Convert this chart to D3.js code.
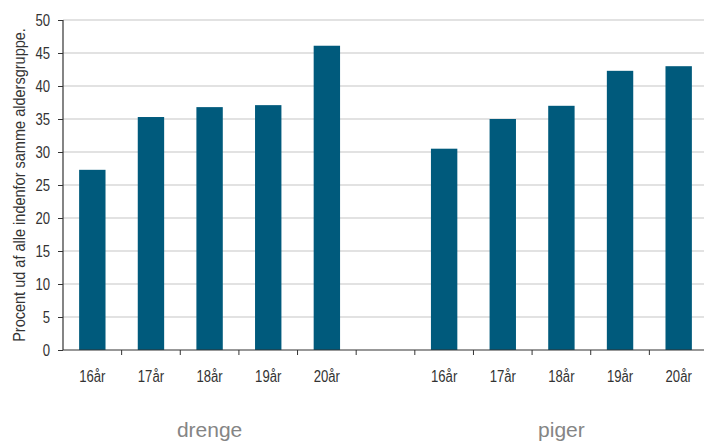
<!DOCTYPE html>
<html><head><meta charset="utf-8">
<script src="https://cdn.jsdelivr.net/npm/d3@7"></script>
<style>
body{margin:0;background:#fff;}
svg text{font-family:"Liberation Sans",Arial,sans-serif;}
</style></head>
<body><svg id="c" width="704" height="441"></svg>
<script>
const categories = ["d16","d17","d18","d19","d20","gap","p16","p17","p18","p19","p20"];
const tickLabels = ["16år","17år","18år","19år","20år","","16år","17år","18år","19år","20år"];
const values = [27.3, 35.3, 36.8, 37.1, 46.1, null, 30.5, 35.0, 37.0, 42.3, 43.0];
const yTicks = [0,5,10,15,20,25,30,35,40,45,50];
const groups = [{label:"drenge", cats:["d16","d20"]},{label:"piger", cats:["p16","p20"]}];
const yTitle = "Procent ud af alle indenfor samme aldersgruppe.";

const narrow = 0.82;
const svg = d3.select("#c");
const mLeft = 63, mRight = 708, mTop = 20, mBottom = 350;
const x = d3.scaleBand().domain(categories).range([mLeft,mRight]).paddingInner(0.55).paddingOuter(0.275);
const xb = d3.scaleBand().domain(categories).range([mLeft,mRight]);
const y = d3.scaleLinear().domain([0,50]).range([mBottom,mTop]);

// gridlines
svg.append("g").selectAll("line").data(yTicks.filter(d=>d>0)).join("line")
  .attr("x1",mLeft).attr("x2",704).attr("y1",d=>y(d)).attr("y2",d=>y(d))
  .attr("stroke","#c6c6c6").attr("stroke-width",1.2);

// bars
svg.append("g").selectAll("rect").data(categories.map((c,i)=>({c,v:values[i]})).filter(d=>d.v!=null)).join("rect")
  .attr("x",d=>x(d.c)).attr("width",x.bandwidth())
  .attr("y",d=>y(d.v)).attr("height",d=>y(0)-y(d.v))
  .attr("fill","#005a7c");

// y axis
const ya = svg.append("g").attr("transform",`translate(${mLeft},0)`)
  .call(d3.axisLeft(y).tickValues(yTicks).tickSize(5).tickPadding(5));
ya.select(".domain").attr("stroke","#333").attr("stroke-width",1.2).attr("d",`M0,${mTop}V${mBottom}`);
ya.selectAll(".tick line").attr("stroke","#333");
ya.selectAll("text").attr("font-size",16).attr("fill","#333").attr("font-family",null)
  .attr("x",0).attr("transform",`translate(-13,0) scale(${narrow},1)`);

// x axis line + ticks at band boundaries
svg.append("line").attr("x1",mLeft).attr("x2",704).attr("y1",mBottom).attr("y2",mBottom)
  .attr("stroke","#333").attr("stroke-width",1.2);
svg.append("g").selectAll("line").data(categories.slice(1)).join("line")
  .attr("x1",d=>xb(d)).attr("x2",d=>xb(d)).attr("y1",mBottom).attr("y2",mBottom+5)
  .attr("stroke","#333");
svg.append("g").selectAll("text").data(categories).join("text")
  .attr("transform",d=>`translate(${xb(d)+xb.bandwidth()/2},382) scale(${narrow},1)`)
  .attr("text-anchor","middle").attr("font-size",16).attr("fill","#333")
  .text((d,i)=>tickLabels[i]);

// group labels
svg.append("g").selectAll("text").data(groups).join("text")
  .attr("x",d=>(xb(d.cats[0])+xb(d.cats[1])+xb.bandwidth())/2).attr("y",437)
  .attr("text-anchor","middle").attr("font-size",21).attr("fill","#858585")
  .text(d=>d.label);

// y title
const t = svg.append("text").attr("text-anchor","middle").attr("font-size",16).attr("fill","#333").text(yTitle);
const len = t.node().getComputedTextLength();
t.attr("transform",`translate(25,185) rotate(-90) scale(${314/len},1)`);
</script></body></html>
